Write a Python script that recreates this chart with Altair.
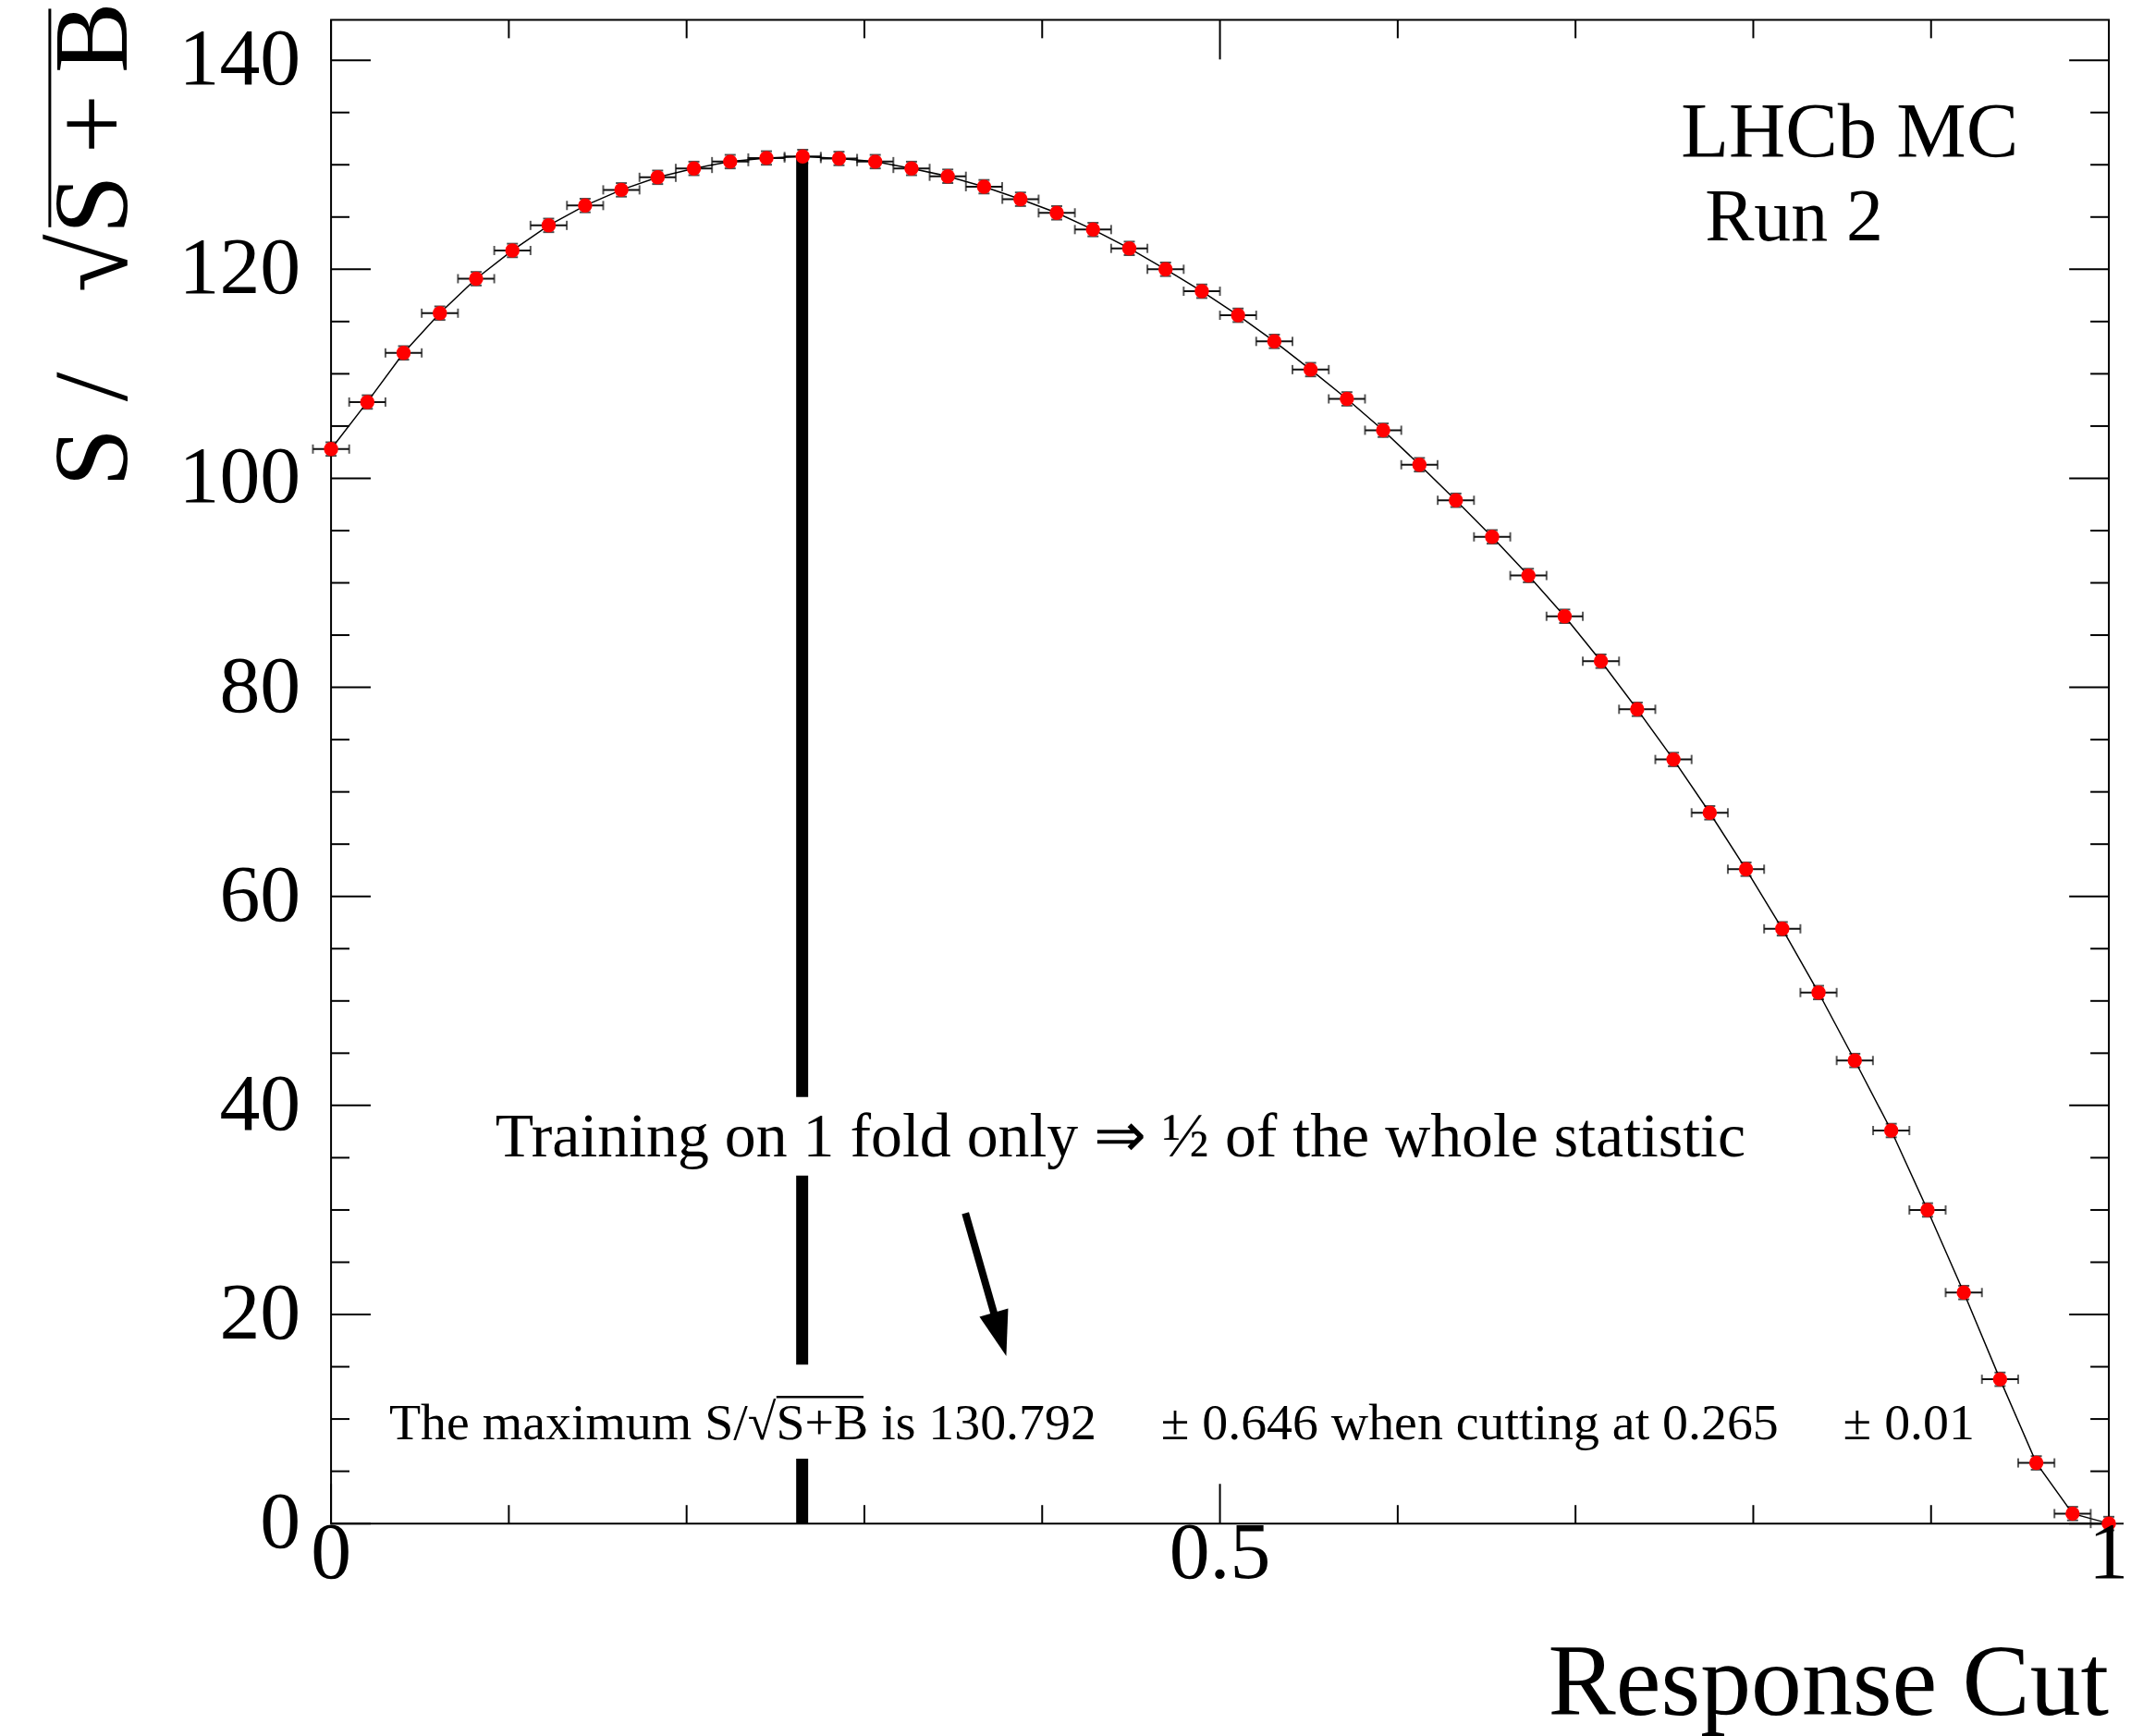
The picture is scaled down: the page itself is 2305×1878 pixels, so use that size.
import altair as alt
import pandas as pd

FONT = "Liberation Serif"

# Response cut values (bin centres) and S/sqrt(S+B)
cut = [0.0, 0.0204, 0.0408, 0.0612, 0.0816, 0.1020, 0.1224, 0.1429, 0.1633, 0.1837,
       0.2041, 0.2245, 0.2449, 0.2653, 0.2857, 0.3061, 0.3265, 0.3469, 0.3673, 0.3878,
       0.4082, 0.4286, 0.4490, 0.4694, 0.4898, 0.5102, 0.5306, 0.5510, 0.5714, 0.5918,
       0.6122, 0.6327, 0.6531, 0.6735, 0.6939, 0.7143, 0.7347, 0.7551, 0.7755, 0.7959,
       0.8163, 0.8367, 0.8571, 0.8776, 0.8980, 0.9184, 0.9388, 0.9592, 0.9796, 1.0]
signif = [102.8, 107.3, 112.0, 115.8, 119.1, 121.8, 124.2, 126.1, 127.6, 128.8,
          129.65, 130.3, 130.65, 130.792, 130.6, 130.3, 129.65, 128.9, 127.9, 126.7,
          125.4, 123.8, 122.0, 120.0, 117.9, 115.6, 113.1, 110.4, 107.6, 104.6,
          101.3, 97.9, 94.4, 90.7, 86.8, 82.5, 77.9, 73.1, 68.0, 62.6,
          56.9, 50.8, 44.3, 37.6, 30.0, 22.1, 13.8, 5.8, 0.95, 0.0]
XERR = 0.0102
YERR = 0.646

best_cut = [0.265]
cut_line_lo = [0.0, 15.2, 40.8]
cut_line_hi = [6.2, 33.3, 130.792]

arrow_x = [0.3568]
arrow_x2 = [0.3763]
arrow_y = [29.7]
arrow_y2 = [18.1]

x_major = [0.0, 0.5, 1.0]
x_labels = ["0", "0.5", "1"]
x_minor = [0.1, 0.2, 0.3, 0.4, 0.6, 0.7, 0.8, 0.9]
y_major = [0, 20, 40, 60, 80, 100, 120, 140]
y_labels = ["0", "20", "40", "60", "80", "100", "120", "140"]
y_minor = [5, 10, 15, 25, 30, 35, 45, 50, 55, 65, 70, 75, 85, 90, 95,
           105, 110, 115, 125, 130, 135]

x_title = "Response Cut"
y_title = "S / \u00a0\u00a0\u221aS\u2009+\u2009B"

YMAX = 143.87
W, H = 1928, 1631

df = pd.DataFrame({"cut": cut, "sig": signif})
df["lo"] = df["cut"] - XERR
df["hi"] = df["cut"] + XERR
df["ylo"] = df["sig"] - YERR
df["yhi"] = df["sig"] + YERR

xs = alt.Scale(domain=[0, 1], nice=False, zero=False)
ys = alt.Scale(domain=[0, YMAX], nice=False, zero=False)

def X(f):
    return alt.X(f, scale=xs, axis=None)

def Y(f):
    return alt.Y(f, scale=ys, axis=None)

base = alt.Chart(df)

# vertical cut line (broken where the annotations sit)
cutline = alt.Chart(pd.DataFrame({"x": best_cut * 3, "lo": cut_line_lo, "hi": cut_line_hi})).mark_rule(
    color="black", strokeWidth=13, strokeCap="butt").encode(
    x=X("x:Q"), y=Y("lo:Q"), y2="hi:Q")

def xticks(vals, length, top):
    c = alt.Chart(pd.DataFrame({"t": vals})).mark_rule(color="black", strokeWidth=2)
    if top:
        return c.encode(x=X("t:Q"), y=alt.value(0), y2=alt.value(length))
    return c.encode(x=X("t:Q"), y=alt.value(H), y2=alt.value(H - length))

def yticks(vals, length, right):
    c = alt.Chart(pd.DataFrame({"t": vals})).mark_rule(color="black", strokeWidth=2)
    if right:
        return c.encode(y=Y("t:Q"), x=alt.value(W - length), x2=alt.value(W))
    return c.encode(y=Y("t:Q"), x=alt.value(0), x2=alt.value(length))

ticks = [xticks(x_minor, 20, False), xticks(x_minor, 20, True),
         xticks(x_major, 43, False), xticks(x_major, 43, True),
         yticks(y_minor, 20, False), yticks(y_minor, 20, True),
         yticks(y_major, 43, False), yticks(y_major, 43, True)]

# tick labels, placed through the scales
xlab = alt.Chart(pd.DataFrame({"v": x_major, "t": x_labels})).mark_text(
    font=FONT, fontSize=88, align="center", baseline="middle", color="black").encode(
    x=X("v:Q"), y=alt.value(H + 33), text="t:N")
ylab = alt.Chart(pd.DataFrame({"v": y_major, "t": y_labels})).mark_text(
    font=FONT, fontSize=88, align="right", baseline="middle", color="black").encode(
    y=Y("v:Q"), x=alt.value(-33), text="t:N")

# axis titles
xtit = alt.Chart(pd.DataFrame({"t": [x_title]})).mark_text(
    font=FONT, fontSize=110, align="right", baseline="alphabetic", color="black").encode(
    x=alt.value(W), y=alt.value(H + 207), text="t:N")
ytit = alt.Chart(pd.DataFrame({"t": [y_title]})).mark_text(
    font=FONT, fontSize=115, align="right", baseline="alphabetic", angle=270, color="black").encode(
    x=alt.value(-222), y=alt.value(-19), text="t:N")
# overline of the square root in the y title
ytit_bar = alt.Chart(pd.DataFrame({"t": [0]})).mark_rule(color="black", strokeWidth=3).encode(
    x=alt.value(-305), y=alt.value(-12), y2=alt.value(225))

xbars = base.mark_rule(color="#111111", strokeWidth=2).encode(
    x=X("lo:Q"), x2="hi:Q", y=Y("sig:Q"))
cap_lo = base.mark_tick(orient="vertical", size=10, thickness=2, color="#111111").encode(
    x=X("lo:Q"), y=Y("sig:Q"))
cap_hi = base.mark_tick(orient="vertical", size=10, thickness=2, color="#111111").encode(
    x=X("hi:Q"), y=Y("sig:Q"))
ycap_lo = base.mark_tick(orient="horizontal", size=12, thickness=2, color="black").encode(
    x=X("cut:Q"), y=Y("ylo:Q"))
ycap_hi = base.mark_tick(orient="horizontal", size=12, thickness=2, color="black").encode(
    x=X("cut:Q"), y=Y("yhi:Q"))

curve = base.mark_line(color="black", strokeWidth=1.5).encode(
    x=X("cut:Q"), y=Y("sig:Q"))

points = base.mark_circle(size=240, color="#ff0000", opacity=1).encode(
    x=X("cut:Q"), y=Y("sig:Q"))

arr_df = pd.DataFrame({"x": arrow_x, "x2": arrow_x2, "y": arrow_y, "y2": arrow_y2})
arrow_line = alt.Chart(arr_df).mark_rule(color="black", strokeWidth=8, strokeCap="butt").encode(
    x=X("x:Q"), x2="x2:Q", y=Y("y:Q"), y2="y2:Q")
arrow_head = alt.Chart(arr_df).mark_point(
    shape="M0,1L0.66,-1L-0.66,-1Z", filled=True, color="black", opacity=1,
    size=2400, angle=344, strokeWidth=0).encode(
    x=X("x2:Q"), y=Y("y2:Q"))

def label(x, y, text, size, align):
    return alt.Chart(pd.DataFrame({"x": [x], "y": [y], "t": [text]})).mark_text(
        font=FONT, fontSize=size, align=align, baseline="alphabetic", color="black").encode(
        x=X("x:Q"), y=Y("y:Q"), text="t:N")

nb = "\u00a0"
t1 = label(0.7593, 130.7, "LHCb MC", 85, "left")
t2 = label(0.7728, 122.8, "Run 2", 80, "left")
t3 = label(0.444, 35.1, "Training on 1 fold only \u21d2 \u00bd of the whole statistic", 68, "center")
t4 = label(0.0327, 8.1,
           "The maximum S/\u221aS+B is 130.792" + nb * 5 + "\u00b1 0.646 when cutting at 0.265"
           + nb * 5 + "\u00b1 0.01", 56, "left")
# overline of the square root in the annotation
ovl = alt.Chart(pd.DataFrame({"x": [0.2505], "x2": [0.2995], "y": [12.1]})).mark_rule(
    color="black", strokeWidth=2.5).encode(x=X("x:Q"), x2="x2:Q", y=Y("y:Q"))

chart = alt.layer(
    cutline, *ticks, xbars, cap_lo, cap_hi, ycap_lo, ycap_hi, curve, points,
    arrow_line, arrow_head, t1, t2, t3, t4, ovl, xlab, ylab, xtit, ytit, ytit_bar
).properties(
    width=W, height=H,
    padding={"left": 351, "top": 11, "right": 16, "bottom": 228},
    autosize=alt.AutoSizeParams(type="none"),
    background="white",
).configure_view(stroke="black", strokeWidth=2)

chart.save("out.html", embed_options={"renderer": "svg", "actions": False})
